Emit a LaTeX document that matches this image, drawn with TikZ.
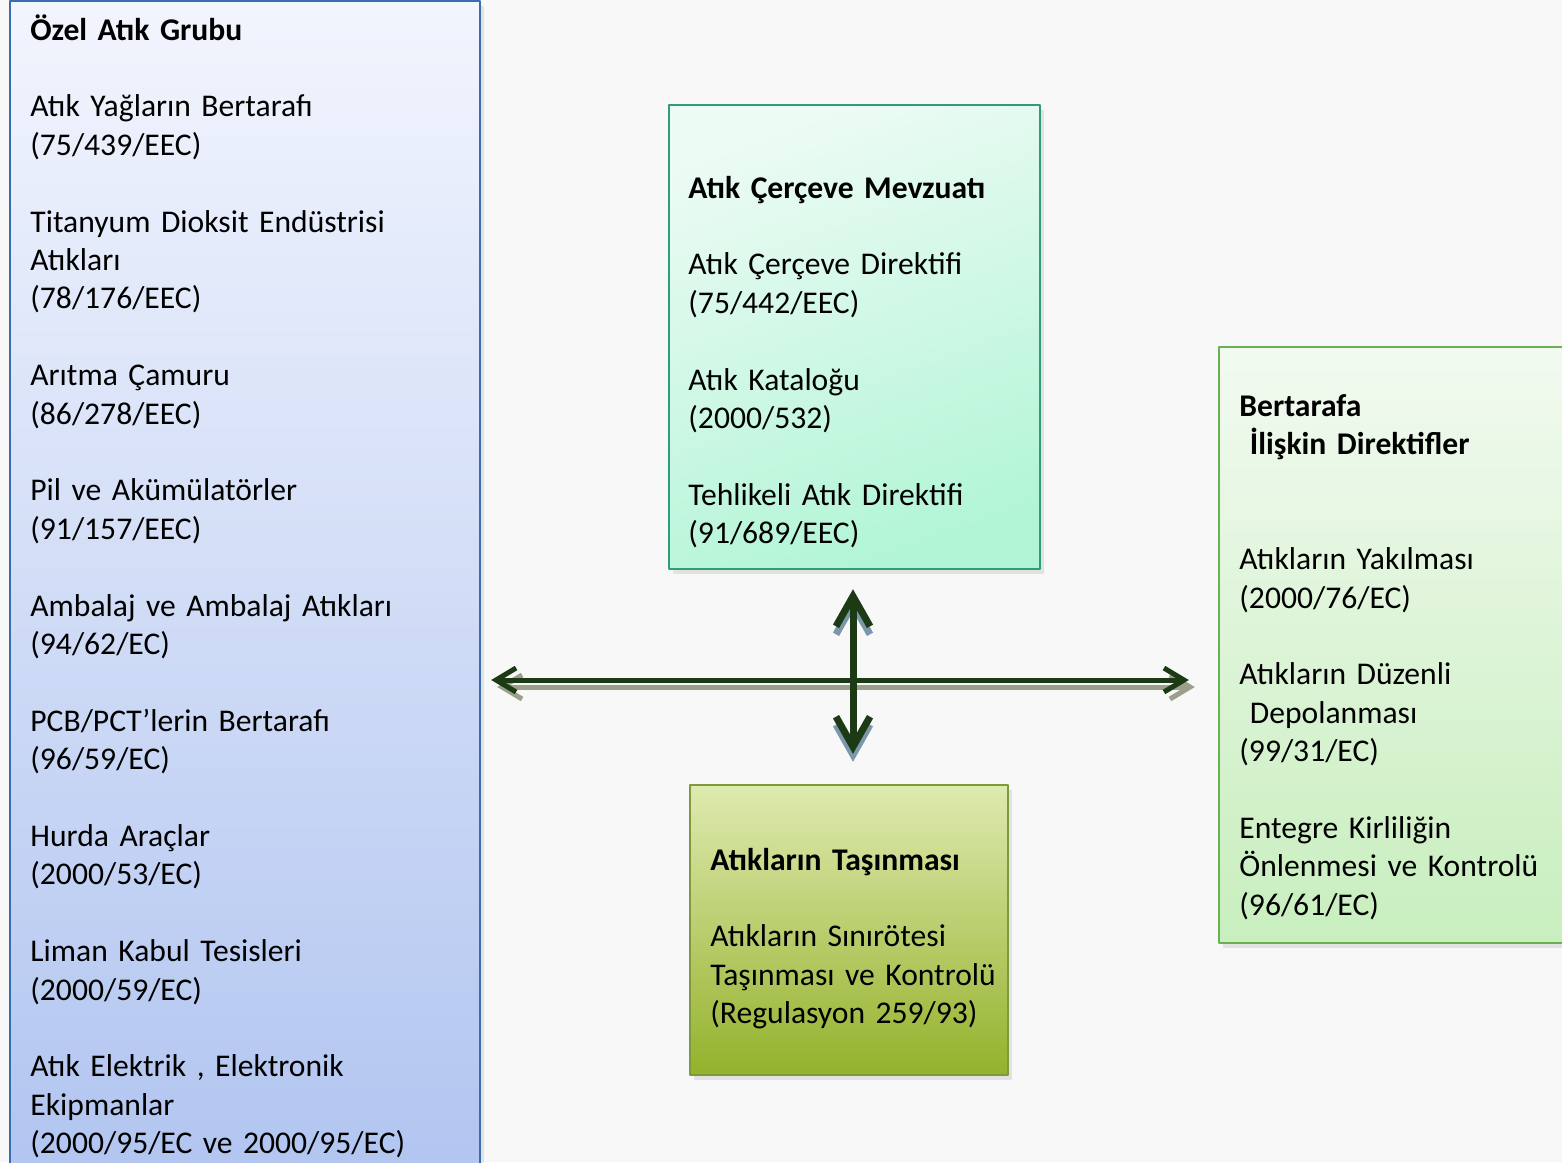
\documentclass[tikz,border=0pt]{standalone}
\usepackage{fontspec}
\setmainfont{Carlito}
\usetikzlibrary{arrows.meta,shadows,fit,positioning}
\definecolor{paper}{RGB}{248,248,248}
\definecolor{specialtop}{RGB}{242,245,253}
\definecolor{specialbot}{RGB}{176,196,240}
\definecolor{specialline}{RGB}{58,108,176}
\definecolor{frametop}{RGB}{236,251,244}
\definecolor{framebot}{RGB}{178,245,214}
\definecolor{frameline}{RGB}{46,158,120}
\definecolor{disptop}{RGB}{242,250,240}
\definecolor{dispbot}{RGB}{200,238,190}
\definecolor{displine}{RGB}{106,176,85}
\definecolor{transtop}{RGB}{222,234,176}
\definecolor{transbot}{RGB}{148,178,44}
\definecolor{transline}{RGB}{126,154,60}
\definecolor{arrowgreen}{RGB}{28,58,19}
\definecolor{hshadow}{RGB}{156,159,138}
\definecolor{vshadow}{RGB}{125,151,170}
\begin{document}
\begin{tikzpicture}[x=0.5pt,y=-0.5pt,line join=round,
    box/.style={line width=1.2pt,inner sep=0pt,
      drop shadow={shadow xshift=2pt,shadow yshift=-2.5pt,opacity=.18}},
    txt/.style={anchor=base west,inner sep=0pt,text width=230pt,align=left,
      font=\fontsize{15.8}{19.2}\selectfont},
    hlink/.style={line width=2.5pt,{Straight Barb[length=10pt,width=12pt]}-{Straight Barb[length=10pt,width=12pt]}},
    vlink/.style={line width=3.5pt,{Straight Barb[length=15pt,width=17pt]}-{Straight Barb[length=15pt,width=17pt]}}]
    \useasboundingbox (0,0) rectangle (1562,1162);
    \fill[paper] (0,0) rectangle (1562,1162);
    % boxes
    \node[box,draw=specialline,top color=specialtop,bottom color=specialbot,fit={(10,1) (480,1200)}] (special) {};
    \node[box,draw=frameline,top color=frametop,bottom color=framebot,shading angle=20,fit={(669,105) (1040,569)}] (frame) {};
    \node[box,draw=displine,top color=disptop,bottom color=dispbot,fit={(1219,347) (1600,943)}] (disposal) {};
    \node[box,draw=transline,top color=transtop,bottom color=transbot,fit={(690,785) (1008,1075)}] (transport) {};
    % texts
    \node[txt] (specialtxt) at (30,40) {\textbf{Özel Atık Grubu}\\[19.2pt]
      Atık Yağların Bertarafı\\(75/439/EEC)\\[19.2pt]
      Titanyum Dioksit Endüstrisi\\Atıkları\\(78/176/EEC)\\[19.2pt]
      Arıtma Çamuru\\(86/278/EEC)\\[19.2pt]
      Pil ve Akümülatörler\\(91/157/EEC)\\[19.2pt]
      Ambalaj ve Ambalaj Atıkları\\(94/62/EC)\\[19.2pt]
      PCB/PCT’lerin Bertarafı\\(96/59/EC)\\[19.2pt]
      Hurda Araçlar\\(2000/53/EC)\\[19.2pt]
      Liman Kabul Tesisleri\\(2000/59/EC)\\[19.2pt]
      Atık Elektrik , Elektronik\\Ekipmanlar\\(2000/95/EC ve 2000/95/EC)};
    \node[txt] (frametxt) at (688,198) {\textbf{Atık Çerçeve Mevzuatı}\\[19.2pt]
      Atık Çerçeve Direktifi\\(75/442/EEC)\\[19.2pt]
      Atık Kataloğu\\(2000/532)\\[19.2pt]
      Tehlikeli Atık Direktifi\\(91/689/EEC)};
    \node[txt] (disposaltxt) at (1239,416) {\textbf{Bertarafa}\\\textbf{~İlişkin Direktifler}\\[38.4pt]
      Atıkların Yakılması\\(2000/76/EC)\\[19.2pt]
      Atıkların Düzenli\\~Depolanması\\(99/31/EC)\\[19.2pt]
      Entegre Kirliliğin\\Önlenmesi ve Kontrolü\\(96/61/EC)};
    \node[txt] (transporttxt) at (710,870) {\textbf{Atıkların Taşınması}\\[19.2pt]
      Atıkların Sınırötesi\\Taşınması ve Kontrolü\\(Regulasyon 259/93)};
    % arrows
    \coordinate (mid) at (853,680);
    \draw[hlink,hshadow,transform canvas={shift={(3pt,-3.5pt)}},shorten <=5pt,shorten >=14.5pt]
      (special.east |- mid) -- (disposal.west |- mid);
    \draw[vlink,vshadow,transform canvas={shift={(0pt,-4pt)}},shorten <=9.5pt,shorten >=15pt]
      (frame.south -| mid) -- (transport.north -| mid);
    \draw[hlink,arrowgreen,shorten <=5pt,shorten >=14.5pt] (special.east |- mid) -- (disposal.west |- mid);
    \draw[vlink,arrowgreen,shorten <=9.5pt,shorten >=15pt] (frame.south -| mid) -- (transport.north -| mid);
\end{tikzpicture}
\end{document}
